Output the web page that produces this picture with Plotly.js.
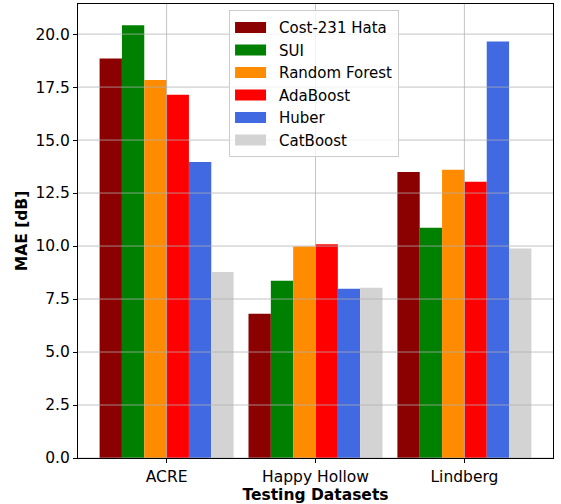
<!DOCTYPE html>
<html>
<head>
<meta charset="utf-8">
<script src="https://cdn.plot.ly/plotly-3.0.1.min.js"></script>
<style>html,body{margin:0;padding:0;background:#fff;}#chart{width:561px;height:504px;}</style>
</head>
<body>
<div id="chart"></div>
<script>
const categories = ["ACRE", "Happy Hollow", "Lindberg"];
const models = ["Cost-231 Hata", "SUI", "Random Forest", "AdaBoost", "Huber", "CatBoost"];
const costHata = [18.85, 6.8, 13.49];
const sui = [20.42, 8.36, 10.86];
const randomForest = [17.84, 9.98, 13.6];
const adaBoost = [17.14, 10.09, 13.03];
const huber = [13.96, 7.99, 19.65];
const catBoost = [8.77, 8.03, 9.89];
const seriesValues = [costHata, sui, randomForest, adaBoost, huber, catBoost];
const colors = ["#8B0000", "#008000", "#FF8C00", "#FF0000", "#4169E1", "#D3D3D3"];
const yTickVals = [0, 2.5, 5, 7.5, 10, 12.5, 15, 17.5, 20];

const xIdx = categories.map((c, i) => i);
const traces = models.map((m, k) => ({
  type: "bar",
  name: m,
  x: xIdx,
  y: seriesValues[k],
  marker: {color: colors[k], line: {width: 0}},
  hoverinfo: "skip"
}));

const gridColor = "rgba(176,176,176,0.75)";
const shapes = [];
yTickVals.forEach(v => shapes.push({type: "line", xref: "paper", yref: "y", x0: 0, x1: 1, y0: v, y1: v, layer: "above", line: {color: gridColor, width: 1}}));
xIdx.forEach(v => shapes.push({type: "line", xref: "x", yref: "paper", x0: v, x1: v, y0: 0, y1: 1, layer: "above", line: {color: gridColor, width: 1}}));

const FS = 15.5;
const font = {family: "DejaVu Sans", size: FS, color: "#000"};
const layout = {
  width: 561, height: 504,
  margin: {l: 78, r: 8, t: 4, b: 46},
  paper_bgcolor: "#fff", plot_bgcolor: "#fff",
  font: font,
  barmode: "group", bargap: 0.1, bargroupgap: 0,
  showlegend: true,
  legend: {
    x: 0.318, y: 0.986, xanchor: "left", yanchor: "top",
    bgcolor: "rgba(255,255,255,0.8)", bordercolor: "#cccccc", borderwidth: 1,
    font: {family: "DejaVu Sans", size: 15, color: "#000"},
    traceorder: "normal", itemwidth: 39
  },
  xaxis: {
    type: "linear", range: [-0.595, 2.595],
    tickmode: "array", tickvals: xIdx, ticktext: categories,
    showgrid: false, zeroline: false,
    showline: true, mirror: true, linecolor: "#000", linewidth: 1,
    ticks: "outside", ticklen: 4, tickcolor: "#000", tickwidth: 1,
    title: {text: "<b>Testing Datasets</b>", font: {family: "DejaVu Sans", size: FS, color: "#000"}, standoff: 4}
  },
  yaxis: {
    range: [0, 21.42],
    tickmode: "array", tickvals: yTickVals, ticktext: yTickVals.map(v => v.toFixed(1)),
    showgrid: false, zeroline: false,
    showline: true, mirror: true, linecolor: "#000", linewidth: 1,
    ticks: "outside", ticklen: 4, tickcolor: "#000", tickwidth: 1,
    title: {text: "<b>MAE [dB]</b>", font: {family: "DejaVu Sans", size: FS, color: "#000"}, standoff: 3}
  },
  shapes: shapes
};

Plotly.newPlot("chart", traces, layout, {staticPlot: true, displayModeBar: false}).then(gd => {
  // widen legend patches to resemble matplotlib's legend handles
  gd.querySelectorAll(".legend .traces").forEach(item => {
    const path = item.querySelector(".legendpoints path");
    const text = item.querySelector("text.legendtext");
    if (!path || !text) return;
    const rp = path.getBoundingClientRect();
    const rt = text.getBoundingClientRect();
    const right = rt.left - 13, left = right - 31;
    const dx = (left + right) / 2 - (rp.left + rp.right) / 2;
    path.setAttribute("d", `M${dx + 15.5},5.5H${dx - 15.5}V-5.5H${dx + 15.5}Z`);
  });
});
</script>
</body>
</html>
